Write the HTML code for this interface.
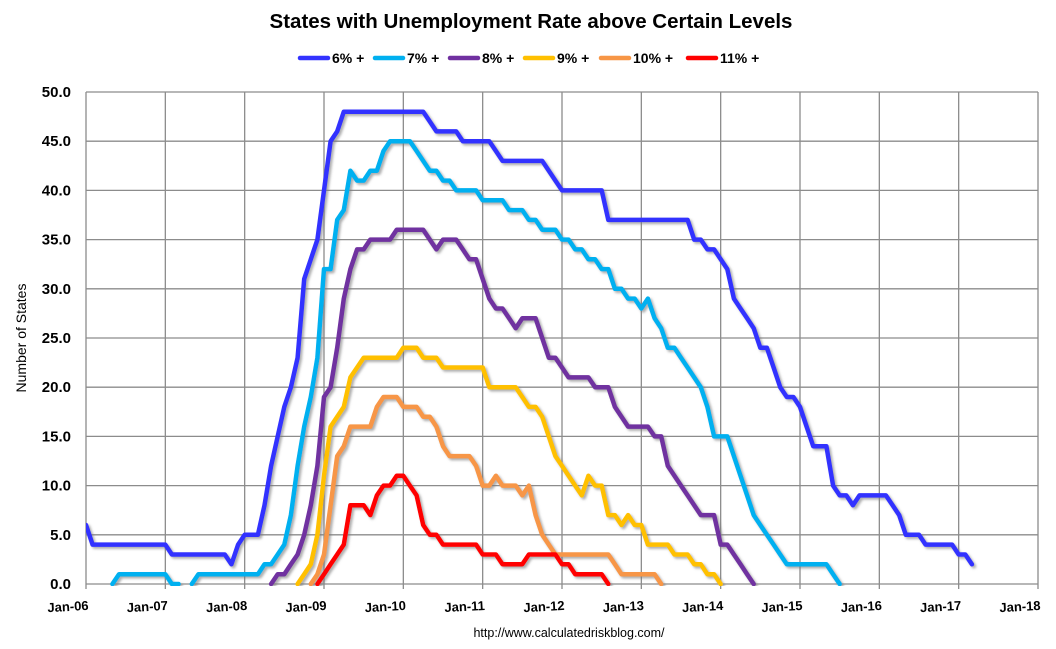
<!DOCTYPE html>
<html><head><meta charset="utf-8"><style>
html,body{margin:0;padding:0;background:#fff}
svg{display:block}
text{font-family:"Liberation Sans",sans-serif}
</style></head><body>
<svg id="chart" width="1056" height="649" viewBox="0 0 1056 649">
<defs>
<filter id="sh" x="-5%" y="-5%" width="110%" height="110%"><feDropShadow dx="2" dy="2" stdDeviation="1.2" flood-color="#777" flood-opacity="0.6"/></filter>
<clipPath id="pc"><rect x="86" y="80" width="960" height="506"/></clipPath>
</defs>
<text x="531" y="28" text-anchor="middle" font-size="20.5" font-weight="bold" fill="#000">States with Unemployment Rate above Certain Levels</text>
<g id="grid"></g>
<g id="yticks"></g>
<g id="xticks"></g>
<text transform="translate(26,338) rotate(-90)" text-anchor="middle" font-size="14" fill="#000">Number of States</text>
<g id="series" clip-path="url(#pc)" filter="url(#sh)"></g>
<g id="legend"></g>
<text x="569" y="637" text-anchor="middle" font-size="12.5" fill="#000">http://www.calculatedriskblog.com/</text>
</svg>
<script>
const yTicks=[0,5,10,15,20,25,30,35,40,45,50];
const xLabels=["Jan-06","Jan-07","Jan-08","Jan-09","Jan-10","Jan-11","Jan-12","Jan-13","Jan-14","Jan-15","Jan-16","Jan-17","Jan-18"];
const seriesNames=["6% +","7% +","8% +","9% +","10% +","11% +"];
const seriesColors=["#3333FF","#00B0F0","#7030A0","#FFC000","#F79646","#FF0000"];
const seriesStarts=[0,4,28,32,34,35];
const s6=[6,4,4,4,4,4,4,4,4,4,4,4,4,3,3,3,3,3,3,3,3,3,2,4,5,5,5,8,12,15,18,20,23,31,33,35,40,45,46,48,48,48,48,48,48,48,48,48,48,48,48,48,47,46,46,46,46,45,45,45,45,45,44,43,43,43,43,43,43,43,42,41,40,40,40,40,40,40,40,37,37,37,37,37,37,37,37,37,37,37,37,37,35,35,34,34,33,32,29,28,27,26,24,24,22,20,19,19,18,16,14,14,14,10,9,9,8,9,9,9,9,9,8,7,5,5,5,4,4,4,4,4,3,3,2];
const s7=[0,1,1,1,1,1,1,1,1,0,0,null,0,1,1,1,1,1,1,1,1,1,1,2,2,3,4,7,12,16,19,23,32,32,37,38,42,41,41,42,42,44,45,45,45,45,44,43,42,42,41,41,40,40,40,40,39,39,39,39,38,38,38,37,37,36,36,36,35,35,34,34,33,33,32,32,30,30,29,29,28,29,27,26,24,24,23,22,21,20,18,15,15,15,13,11,9,7,6,5,4,3,2,2,2,2,2,2,2,1,0];
const s8=[0,1,1,2,3,5,8,12,19,20,24,29,32,34,34,35,35,35,35,36,36,36,36,36,35,34,35,35,35,34,33,33,31,29,28,28,27,26,27,27,27,25,23,23,22,21,21,21,21,20,20,20,18,17,16,16,16,16,15,15,12,11,10,9,8,7,7,7,4,4,3,2,1,0];
const s9=[0,1,2,5,11,16,17,18,21,22,23,23,23,23,23,23,24,24,24,23,23,23,22,22,22,22,22,22,22,20,20,20,20,20,19,18,18,17,15,13,12,11,10,9,11,10,10,7,7,6,7,6,6,4,4,4,4,3,3,3,2,2,1,1,0];
const s10=[0,1,3,8,13,14,16,16,16,16,18,19,19,19,18,18,18,17,17,16,14,13,13,13,13,12,10,10,11,10,10,10,9,10,7,5,4,3,3,3,3,3,3,3,3,3,2,1,1,1,1,1,1,0];
const s11=[0,1,2,3,4,8,8,8,7,9,10,10,11,11,10,9,6,5,5,4,4,4,4,4,4,3,3,3,2,2,2,2,3,3,3,3,3,2,2,1,1,1,1,1,0];
const allSeries=[s6,s7,s8,s9,s10,s11];

const NS="http://www.w3.org/2000/svg";
const X0=86,X1=1038,Y0=584,Y1=92,MONTHS=144,YMAX=50;
function xScale(m){return X0+m*(X1-X0)/MONTHS;}
function yScale(v){return Y0-v*(Y0-Y1)/YMAX;}
function mk(tag,attrs,parent){const e=document.createElementNS(NS,tag);for(const k in attrs)e.setAttribute(k,attrs[k]);parent.appendChild(e);return e;}

const grid=document.getElementById('grid');
const yt=document.getElementById('yticks');
const xt=document.getElementById('xticks');
yTicks.forEach(v=>{
  const l=mk('line',{x1:X0,x2:X1,y1:yScale(v),y2:yScale(v),stroke:'#8c8c8c','stroke-width':1.3},grid);
  
  
  const t=mk('text',{x:71,y:yScale(v)+5,'text-anchor':'end','font-size':15,'font-weight':'bold',fill:'#000'},yt);
  t.textContent=v.toFixed(1);
  
  
});
xLabels.forEach((lab,i)=>{
  const x=xScale(i*12);
  const l=mk('line',{x1:x,x2:x,y1:Y1,y2:Y0+5,stroke:'#8c8c8c','stroke-width':1.3},grid);
  
  
  const t=mk('text',{x:x-18,y:611,'text-anchor':'middle','font-size':13,'font-weight':'bold',fill:'#000',transform:`rotate(-3 ${x-18} 607)`},xt);
  t.textContent=lab;
  
  
});

const sg=document.getElementById('series');
allSeries.forEach((arr,si)=>{
  let segs=[],cur=[];
  arr.forEach((v,i)=>{
    if(v===null){if(cur.length)segs.push(cur);cur=[];return;}
    cur.push(xScale(seriesStarts[si]+i).toFixed(1)+','+yScale(v).toFixed(1));
  });
  if(cur.length)segs.push(cur);
  segs.forEach(s=>{
    const p=mk('polyline',{points:s.join(' '),fill:'none',stroke:seriesColors[si],'stroke-width':4.5,'stroke-linejoin':'round','stroke-linecap':'round'},sg);
    
    
  });
});

const lg=document.getElementById('legend');
const legX=[300,375,450,525,601,688];
seriesNames.forEach((n,i)=>{
  const g=mk('g',{},lg);
  
  
  mk('line',{x1:legX[i],x2:legX[i]+28,y1:58,y2:58,stroke:seriesColors[i],'stroke-width':4.5,'stroke-linecap':'round'},g);
  const t=mk('text',{x:legX[i]+32,y:63,'font-size':14,'font-weight':'bold',fill:'#000'},g);
  t.textContent=n;
});
</script>
</body></html>
